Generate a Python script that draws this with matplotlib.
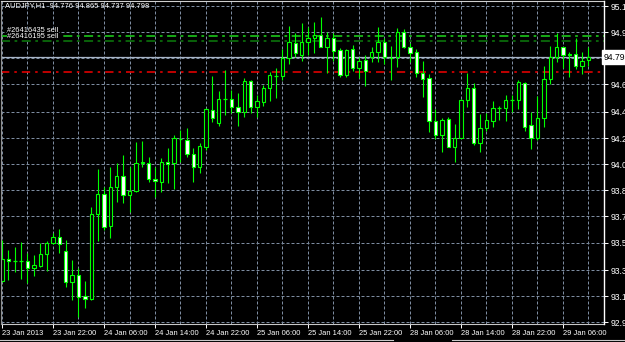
import matplotlib
matplotlib.use("Agg")
import matplotlib.pyplot as plt
from matplotlib.lines import Line2D
import numpy as np

# ---------------- data ----------------
title_text = "AUDJPY,H1  94.776 94.865 94.737 94.798"

opens = [93.255, 93.406, 93.393, 93.393, 93.393, 93.344, 93.358, 93.441, 93.517, 93.558,
         93.462, 93.248, 93.296, 93.151, 93.131, 93.716, 93.854, 93.634, 93.903, 93.978,
         93.847, 93.875, 94.068, 94.068, 93.958, 93.937, 94.075, 94.068, 94.233, 94.226,
         94.130, 94.040, 94.178, 94.433, 94.344, 94.509, 94.509, 94.454, 94.419, 94.633,
         94.454, 94.488, 94.585, 94.668, 94.668, 94.792, 94.895, 94.812, 94.902, 94.929,
         94.950, 94.867, 94.929, 94.847, 94.674, 94.854, 94.723, 94.778, 94.798, 94.833,
         94.902, 94.798, 94.798, 94.971, 94.867, 94.833, 94.688, 94.654, 94.357, 94.261,
         94.371, 94.178, 94.240, 94.502, 94.585, 94.206, 94.309, 94.357, 94.447, 94.447,
         94.502, 94.502, 94.619, 94.330, 94.240, 94.378, 94.647, 94.798, 94.867, 94.819,
         94.819, 94.736, 94.776]
highs = [93.537, 93.468, 93.489, 93.523, 93.448, 93.434, 93.517, 93.530, 93.586, 93.613,
         93.537, 93.399, 93.344, 93.255, 93.765, 94.027, 93.903, 94.040, 94.068, 94.123,
         94.040, 94.213, 94.220, 94.109, 94.040, 94.102, 94.171, 94.261, 94.295, 94.309,
         94.171, 94.206, 94.447, 94.668, 94.564, 94.709, 94.571, 94.550, 94.654, 94.640,
         94.537, 94.605, 94.695, 94.723, 94.854, 95.012, 94.964, 95.033, 95.005, 95.040,
         95.074, 94.971, 94.964, 94.861, 94.854, 94.881, 94.798, 94.812, 94.867, 95.005,
         94.929, 94.874, 94.998, 94.991, 94.895, 94.854, 94.771, 94.681, 94.440, 94.378,
         94.385, 94.337, 94.509, 94.688, 94.619, 94.406, 94.413, 94.495, 94.461, 94.537,
         94.537, 94.640, 94.626, 94.419, 94.530, 94.736, 94.874, 94.964, 94.870, 94.833,
         94.929, 94.833, 94.865]
lows = [93.248, 93.262, 93.317, 93.268, 93.241, 93.289, 93.351, 93.324, 93.510, 93.448,
        93.213, 93.124, 93.007, 93.069, 93.124, 93.530, 93.606, 93.551, 93.799, 93.792,
        93.730, 93.868, 94.040, 93.937, 93.834, 93.868, 93.930, 93.889, 94.075, 94.109,
        93.937, 93.999, 94.158, 94.350, 94.323, 94.399, 94.413, 94.323, 94.385, 94.413,
        94.385, 94.461, 94.495, 94.516, 94.640, 94.750, 94.798, 94.771, 94.812, 94.826,
        94.867, 94.688, 94.771, 94.661, 94.661, 94.702, 94.654, 94.599, 94.764, 94.764,
        94.750, 94.640, 94.730, 94.861, 94.764, 94.661, 94.523, 94.282, 94.233, 94.144,
        94.178, 94.075, 94.240, 94.454, 94.192, 94.144, 94.288, 94.316, 94.364, 94.357,
        94.419, 94.440, 94.288, 94.164, 94.226, 94.316, 94.612, 94.764, 94.723, 94.661,
        94.716, 94.681, 94.737]
closes = [93.406, 93.393, 93.396, 93.390, 93.344, 93.365, 93.441, 93.517, 93.558, 93.510,
          93.248, 93.296, 93.144, 93.131, 93.716, 93.854, 93.627, 93.903, 93.978, 93.847,
          93.875, 94.068, 94.075, 93.958, 93.944, 94.075, 94.061, 94.240, 94.236, 94.130,
          94.040, 94.185, 94.440, 94.378, 94.509, 94.506, 94.454, 94.419, 94.633, 94.454,
          94.495, 94.585, 94.674, 94.665, 94.792, 94.902, 94.826, 94.902, 94.929, 94.950,
          94.867, 94.929, 94.840, 94.674, 94.847, 94.723, 94.771, 94.702, 94.833, 94.902,
          94.798, 94.795, 94.971, 94.867, 94.826, 94.688, 94.647, 94.357, 94.261, 94.364,
          94.178, 94.240, 94.502, 94.585, 94.206, 94.309, 94.364, 94.447, 94.444, 94.502,
          94.499, 94.626, 94.316, 94.240, 94.378, 94.647, 94.798, 94.867, 94.812, 94.812,
          94.736, 94.771, 94.798]

time_labels = ["23 Jan 2013", "23 Jan 22:00", "24 Jan 06:00", "24 Jan 14:00",
               "24 Jan 22:00", "25 Jan 06:00", "25 Jan 14:00", "25 Jan 22:00",
               "28 Jan 06:00", "28 Jan 14:00", "28 Jan 22:00", "29 Jan 06:00"]
bars_per_label = 8
bars_per_grid = 4

price_labels = ["95.15", "94.97", "94.79", "94.61", "94.42", "94.24", "94.06",
                "93.88", "93.70", "93.52", "93.33", "93.15", "92.97"]

bid_price = 94.798
bid_text = "94.798"
red_level = 94.695
green_level_1 = 94.943
green_level_2 = 94.911
order_texts = ["#26416435 sell", "#26416195 sell"]

# ---------------- style ----------------
LIME = "#00ff00"
GRID = "#7d8ca0"
FONT = ["Liberation Sans", "DejaVu Sans"]
FS = 5.4
FS_Y = 6.2
W, H = 625, 342
PX_PER_BAR = 6.375

fig = plt.figure(figsize=(W / 100, H / 100), dpi=100, facecolor="black")
ax = fig.add_axes([1 / W, 1 - 323.5 / H, 603 / W, 322.5 / H])
ax.set_facecolor("black")

n = len(opens)
x = np.arange(n)
xmin = -1 / PX_PER_BAR
ax.set_xlim(xmin, xmin + 603 / PX_PER_BAR)
ax.set_ylim(92.962, 95.1845)

# grid
price_vals = [float(p) for p in price_labels]
for yv in price_vals:
    ax.axhline(yv, color=GRID, lw=0.72, ls=(0, (3, 2)), zorder=1)
for xv in range(0, n + 1, bars_per_grid):
    ax.axvline(xv, color=GRID, lw=0.72, ls=(0, (3, 2)), zorder=1)

# horizontal levels
ax.axhline(green_level_1, color="#19b619", lw=1.3, ls=(0, (5, 2.5, 1.5, 2.5)), zorder=2)
ax.axhline(green_level_2, color="#0b6a0b", lw=1.3, ls=(0, (5, 2.5, 1.5, 2.5)), zorder=2)
ax.axhline(red_level, color="#e00000", lw=1.2, ls=(0, (5, 3, 1.5, 3)), zorder=2)
ax.axhline(bid_price, color="#a9b6c8", lw=0.9, zorder=2)

# candles
o = np.array(opens); h = np.array(highs); l = np.array(lows); c = np.array(closes)
ax.vlines(x, l, h, color=LIME, lw=0.8, zorder=3)
body_w = 0.52
for i in range(n):
    if abs(c[i] - o[i]) < 0.004:
        ax.hlines(c[i], i - body_w / 2 - 0.05, i + body_w / 2 + 0.05, color=LIME, lw=0.9, zorder=4)
    else:
        face = "black" if c[i] > o[i] else "white"
        ax.bar(i, abs(c[i] - o[i]), bottom=min(o[i], c[i]), width=body_w,
               facecolor=face, edgecolor=LIME, linewidth=0.8, zorder=4)

# axes styling
for s in ["left", "top", "bottom"]:
    ax.spines[s].set_visible(False)
ax.spines["right"].set_color("white")
ax.spines["right"].set_linewidth(1.0)
ax.spines["right"].set_zorder(6)

ax.yaxis.tick_right()
ax.set_yticks(price_vals)
ax.set_yticklabels(price_labels, fontsize=FS_Y, color="white", family=FONT)
ax.tick_params(axis="y", colors="white", length=3, width=0.7, pad=1.5)

xt = list(range(0, bars_per_label * len(time_labels), bars_per_label))
ax.set_xticks(xt)
ax.set_xticklabels(time_labels, fontsize=FS, color="white", family=FONT)
for lab in ax.get_xticklabels():
    lab.set_horizontalalignment("left")
ax.tick_params(axis="x", colors="white", length=3, width=0.7, pad=1.5)

# plot borders
ax.plot([0, 1], [0, 0], transform=ax.transAxes, color="#c8c8c8", lw=0.8, clip_on=False, zorder=6)
ax.plot([0, 0], [0, 1], transform=ax.transAxes, color="#909090", lw=0.8, clip_on=False, zorder=6)
ax.plot([0, 1], [1, 1], transform=ax.transAxes, color="#d0d0d0", lw=0.8, clip_on=False, zorder=6)

# bid price box on axis
ax.text(1.0, bid_price, bid_text, transform=ax.get_yaxis_transform(), ha="left", va="center",
        fontsize=FS_Y, color="black", family=FONT, clip_on=False, zorder=10,
        bbox=dict(boxstyle="square,pad=0.25", facecolor="white", edgecolor="white"))

# title and order texts
fig.text(5 / W, 1 - 2.5 / H, title_text, ha="left", va="top", color="white",
         fontsize=FS, family=FONT)
fig.text(7 / W, 1 - 27 / H, order_texts[0], ha="left", va="top", color="white",
         fontsize=FS, family=FONT)
fig.text(7 / W, 1 - 32.5 / H, order_texts[1], ha="left", va="top", color="white",
         fontsize=FS, family=FONT,
         bbox=dict(boxstyle="square,pad=0.05", facecolor="black", edgecolor="none"))

# window bottom edge
fig.add_artist(Line2D([0, 393 / W], [1 - 340 / H] * 2, color="#c8c8c8", lw=0.8))
fig.add_artist(Line2D([452 / W, 1], [1 - 340 / H] * 2, color="#c8c8c8", lw=0.8))

fig.savefig("out.png", dpi=100, facecolor="black")
